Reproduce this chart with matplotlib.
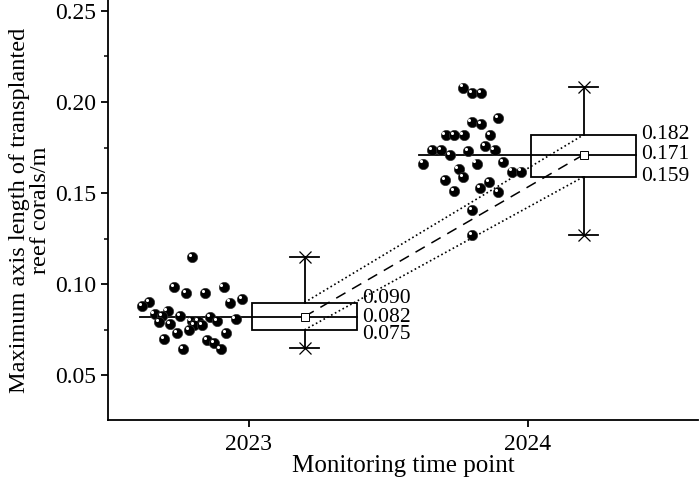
import numpy as np
import matplotlib
matplotlib.use("Agg")
import matplotlib.pyplot as plt
from matplotlib.ticker import MultipleLocator, FormatStrFormatter
from matplotlib.transforms import offset_copy

plt.rcParams["font.family"] = ["Liberation Serif", "DejaVu Serif"]

years = ["2023", "2024"]

# box statistics
q1 = [0.075, 0.159]
median = [0.082, 0.171]
q3 = [0.090, 0.182]
mean = [0.0823, 0.1711]
whisker_lo = [0.065, 0.127]
whisker_hi = [0.115, 0.208]

# raw observations (x jitter in category units, y values)
jit_2023 = [-0.268, -0.223, -0.157, -0.090, -0.357, -0.381, -0.066, -0.023,
            -0.291, -0.337, -0.309, -0.321, -0.247, -0.281, -0.205, -0.180,
            -0.197, -0.168, -0.214, -0.137, -0.112, -0.047, -0.257, -0.302,
            -0.080, -0.148, -0.125, -0.101, -0.235, -0.202]
val_2023 = [0.0983, 0.0950, 0.0950, 0.0986, 0.0902, 0.0882, 0.0899, 0.0920,
            0.0851, 0.0835, 0.0826, 0.0793, 0.0826, 0.0782, 0.0800, 0.0800,
            0.0776, 0.0778, 0.0749, 0.0822, 0.0800, 0.0807, 0.0734, 0.0699,
            0.0731, 0.0694, 0.0676, 0.0646, 0.0646, 0.1151]
jit_2024 = [-0.232, -0.200, -0.168, -0.105, -0.201, -0.168, -0.294, -0.263,
            -0.230, -0.136, -0.152, -0.344, -0.311, -0.278, -0.214, -0.119,
            -0.375, -0.183, -0.089, -0.056, -0.025, -0.248, -0.232, -0.295,
            -0.264, -0.170, -0.139, -0.105, -0.198, -0.198]
val_2024 = [0.2079, 0.2048, 0.2048, 0.1914, 0.1891, 0.1878, 0.1819, 0.1819,
            0.1819, 0.1819, 0.1760, 0.1737, 0.1737, 0.1709, 0.1731, 0.1735,
            0.1662, 0.1662, 0.1669, 0.1618, 0.1618, 0.1631, 0.1590, 0.1571,
            0.1510, 0.1527, 0.1560, 0.1505, 0.1407, 0.1270]

jitters = [jit_2023, jit_2024]
values = [val_2023, val_2024]

BOX_OFF = 0.2      # box drawn to the right of the category tick
BOX_W = 0.376
CAP_W = 0.104
MED_L = -0.39
LW = 1.3

fig = plt.figure(figsize=(7, 4.79), dpi=100)
ax = fig.add_axes([0.154, 0.123, 0.843, 0.877])

hl = offset_copy(ax.transData, fig=fig, x=-1.6, y=1.6, units="points")

for i in range(len(years)):
    xs = i + np.array(jitters[i])
    ys = np.array(values[i])
    ax.scatter(xs, ys, s=55, color="black", edgecolors="#333333",
               linewidths=0.5, zorder=3)
    ax.scatter(xs, ys, s=5, color="white", linewidths=0, zorder=4,
               transform=hl)

    c = i + BOX_OFF
    # box
    ax.add_patch(plt.Rectangle((c - BOX_W / 2, q1[i]), BOX_W, q3[i] - q1[i],
                               facecolor="white", edgecolor="black",
                               linewidth=LW, zorder=2))
    # median line through the scatter and box
    ax.plot([i + MED_L, c + BOX_W / 2], [median[i], median[i]],
            color="black", linewidth=LW, zorder=2.5)
    # whiskers
    ax.plot([c, c], [q3[i], whisker_hi[i]], color="black", linewidth=LW, zorder=2)
    ax.plot([c, c], [q1[i], whisker_lo[i]], color="black", linewidth=LW, zorder=2)
    for w in (whisker_lo[i], whisker_hi[i]):
        ax.plot([c - CAP_W / 2, c + CAP_W / 2], [w, w], color="black",
                linewidth=LW, zorder=2)
        ax.plot(c, w, marker="x", markersize=8, color="black",
                markeredgewidth=0.9, zorder=3)
    # mean marker
    ax.plot(c, mean[i], marker="s", markersize=6, markerfacecolor="white",
            markeredgecolor="black", markeredgewidth=0.7, zorder=5)

    # value labels
    dy = [3, 0, -3] if i == 0 else [0, 0, 0]
    for v, d in zip([q3[i], median[i], q1[i]], dy):
        ax.annotate(f"{v:.3f}", (c + BOX_W / 2, v), xytext=(4, d),
                    textcoords="offset points", ha="left", va="center",
                    fontsize=15.5)

# connecting lines between the two boxes
cx = [BOX_OFF, 1 + BOX_OFF]
ax.plot(cx, mean, color="black", linestyle=(0, (7, 5)), linewidth=1.1, zorder=2.6)
ax.plot(cx, q3, color="black", linestyle=(0, (1, 1.6)), linewidth=1.2, zorder=2.6)
ax.plot(cx, q1, color="black", linestyle=(0, (1, 1.6)), linewidth=1.2, zorder=2.6)

ax.set_xlim(-0.505, 1.61)
ax.set_ylim(0.0255, 0.256)
ax.set_xticks([0, 1])
ax.set_xticklabels(years)
ax.yaxis.set_major_locator(MultipleLocator(0.05))
ax.yaxis.set_minor_locator(MultipleLocator(0.025))
ax.yaxis.set_major_formatter(FormatStrFormatter("%.2f"))

ax.spines[["top", "right"]].set_visible(False)
for s in ("left", "bottom"):
    ax.spines[s].set_linewidth(1.3)
ax.tick_params(axis="both", which="major", direction="out", length=5,
               width=1.3, labelsize=17)
ax.tick_params(axis="y", which="minor", direction="out", length=3, width=1.1)
ax.tick_params(axis="x", pad=5)

ax.set_xlabel("Monitoring time point", fontsize=18, labelpad=0)
ax.set_ylabel("Maximum axis length of transplanted\nreef corals/m",
              fontsize=17.5, linespacing=1.0, labelpad=3)

fig.savefig("out.png", dpi=100)
